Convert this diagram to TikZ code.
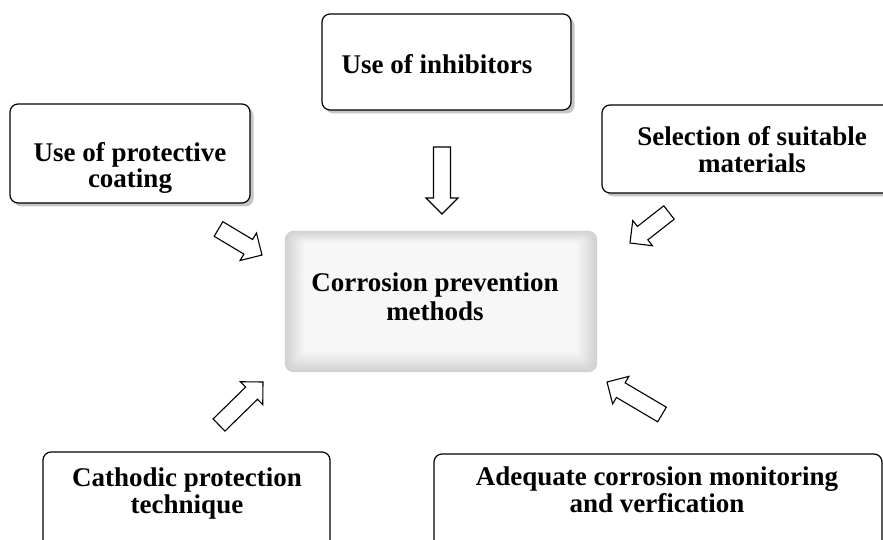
\documentclass[tikz,border=0pt]{standalone}
\usepackage{fontspec}
\setmainfont{Liberation Serif}
\usetikzlibrary{calc,shadows}
\newcommand{\blkarrow}[2]{%
  \coordinate (hb) at ($(#2)!16pt!(#1)$);
  \draw[blockarrow] ($(#1)!8.5pt!90:(#2)$) -- ($(hb)!8.5pt!90:(#2)$) -- ($(hb)!16pt!90:(#2)$) -- (#2)
    -- ($(hb)!16pt!-90:(#2)$) -- ($(hb)!8.5pt!-90:(#2)$) -- ($(#1)!8.5pt!-90:(#2)$) -- cycle;}
\begin{document}
\begin{tikzpicture}[x=1pt,y=-1pt,
  box/.style={draw=black, line width=1.2pt, fill=white, rounded corners=8pt, rectangle, inner sep=0pt},
  shbox/.style={box, drop shadow={shadow xshift=3.5pt, shadow yshift=-3.5pt, fill=gray!45, opacity=1}},
  centerbox/.style={rectangle, draw=none, inner sep=0pt},
  lbl/.style={font=\fontsize{27}{26.5}\selectfont\bfseries, align=center, inner sep=0pt},
  blockarrow/.style={draw=black, line width=1.1pt, fill=white, line join=miter}]
\useasboundingbox (0,0) rectangle (883,540);
\clip (0,0) rectangle (883,540);
\fill[white] (0,0) rectangle (883,540);
% boxes
\node[shbox, minimum width=240pt, minimum height=99pt] (prot) at (130,153.5) {};
\node[shbox, minimum width=249pt, minimum height=96pt] (inhib) at (446.5,62) {};
\node[shbox, minimum width=303pt, minimum height=88pt] (sel) at (753.5,149) {};
\node[centerbox, minimum width=312pt, minimum height=141pt] (cent) at (441,301.5) {};
\foreach \i in {0,...,16}{
  \pgfmathsetmacro{\d}{\i*1.4}
  \pgfmathsetmacro{\g}{max(36-\i*2.1,6)}
  \pgfmathsetmacro{\r}{max(9-\i*0.4,3)}
  \fill[gray!\g, rounded corners=\r pt] ($(cent.north west)+(\d,\d*0.6)$) rectangle ($(cent.south east)+(-\d,-\d)$);
}
\foreach \k in {1,...,5}{
  \fill[white, opacity=0.12] ($(cent.center)+(-45,-25)$) ellipse [x radius=110-\k*14, y radius=38-\k*5];
}
\node[box, minimum width=287pt, minimum height=108pt] (cath) at (186.5,506) {};
\node[box, minimum width=448pt, minimum height=106pt] (adeq) at (658,507) {};
% labels
\node[lbl] (tprot) at (130,167.8) {Use of protective\\coating};
\node[lbl] (tinhib) at (437,63.9) {Use of inhibitors};
\node[lbl] (tsel) at (752,149.4) {Selection of suitable\\materials};
\node[lbl, font=\fontsize{27}{29}\selectfont\bfseries] (tcent) at (435,296.4) {Corrosion prevention\\methods};
\node[lbl] (tcath) at (187,493.3) {Cathodic protection\\technique};
\node[lbl] (tadeq) at (657,489.9) {Adequate corrosion monitoring\\and verfication};
% arrows
\coordinate (a1s) at (442,147);   \coordinate (a1e) at (442,214);
\coordinate (a2s) at (218.5,229); \coordinate (a2e) at (262,255);
\coordinate (a3s) at (669,212.5); \coordinate (a3e) at (630,243);
\coordinate (a4s) at (662,414.5); \coordinate (a4e) at (607,382);
\coordinate (a5s) at (219,425);   \coordinate (a5e) at (263,382);
\blkarrow{a1s}{a1e}
\blkarrow{a2s}{a2e}
\blkarrow{a3s}{a3e}
\blkarrow{a4s}{a4e}
\blkarrow{a5s}{a5e}
\end{tikzpicture}
\end{document}
